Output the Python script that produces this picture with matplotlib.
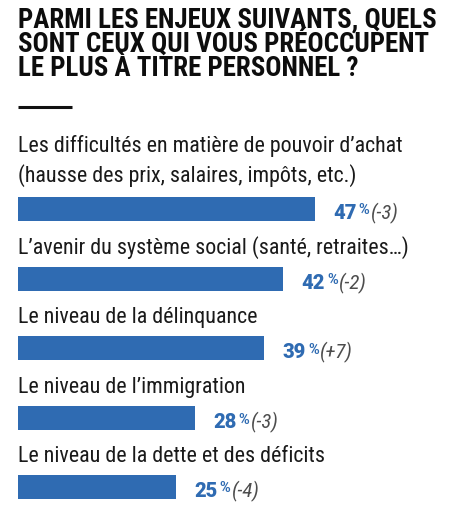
import matplotlib
matplotlib.use("Agg")
import matplotlib.pyplot as plt
from matplotlib import font_manager

# Data
labels = [
    "Les difficultés en matière de pouvoir d’achat\n(hausse des prix, salaires, impôts, etc.)",
    "L’avenir du système social (santé, retraites…)",
    "Le niveau de la délinquance",
    "Le niveau de l’immigration",
    "Le niveau de la dette et des déficits",
]
values = [47, 42, 39, 28, 25]
changes = ["(-3)", "(-2)", "(+7)", "(-3)", "(-4)"]
title = "PARMI LES ENJEUX SUIVANTS, QUELS\nSONT CEUX QUI VOUS PRÉOCCUPENT\nLE PLUS À TITRE PERSONNEL ?"

names = {f.name for f in font_manager.fontManager.ttflist}
cond = next((n for n in ["Roboto Condensed", "Liberation Sans Narrow", "Roboto"] if n in names), "DejaVu Sans")

BLUE = "#2f6bb2"
W, H = 460, 505
k = 6.31   # px per %
x0 = 18

fig = plt.figure(figsize=(W / 100, H / 100), dpi=100)
ax = fig.add_axes([0, 0, 1, 1])
ax.set_xlim(-x0 / k, (W - x0) / k)
ax.set_ylim(H, 0)
ax.axis("off")

bar_y = [209, 279, 348, 418, 487]
ax.barh(bar_y, values, height=24, left=0, color=BLUE)

fig.canvas.draw()
r = fig.canvas.get_renderer()

# title
lines = title.split("\n")
t = ax.text(0, 28, lines[0], fontsize=16, fontweight="black",
            family=cond, color="#0d0d0d", va="baseline")
w = t.get_window_extent(r).width
tsize = 16 * 419 / w
t.set_fontsize(tsize)
for line, y in zip(lines[1:], [52, 75.5]):
    ax.text(0, y, line, fontsize=tsize, fontweight="black",
            family=cond, color="#0d0d0d", va="baseline")
ax.plot([0, 54 / k], [107, 107], color="#111111", lw=2.2, solid_capstyle="butt")

# labels
t = ax.text(0, 152, labels[0].split("\n")[0], fontsize=16, family=cond,
            color="#1a1a1a", va="baseline")
w = t.get_window_extent(r).width
lsize = 16 * 387 / w
t.set_fontsize(lsize)
ax.text(0, 182, labels[0].split("\n")[1], fontsize=lsize, family=cond,
        color="#1a1a1a", va="baseline")
for lab, y in zip(labels[1:], bar_y[1:]):
    ax.text(0, y - 12 - 13.5, lab, fontsize=lsize, family=cond,
            color="#1a1a1a", va="baseline")

# value labels: number, small "%", then change in italics
inv = ax.transData.inverted()
for v, c, y in zip(values, changes, bar_y):
    a = ax.annotate(str(v), (v, y + 10), xytext=(13.5, 0), textcoords="offset points",
                    fontsize=14.5, fontweight="black", family="Roboto", color=BLUE,
                    va="baseline")
    fig.canvas.draw()
    xa = inv.transform((a.get_window_extent(r).x1 + 2, 0))[0]
    b = ax.text(xa, y + 5.5, "%", fontsize=10.5, fontweight="bold", family="Roboto",
                color=BLUE, va="baseline")
    fig.canvas.draw()
    xb = inv.transform((b.get_window_extent(r).x1 + 1, 0))[0]
    ax.text(xb, y + 10, c, fontsize=15, style="italic", family=cond,
            color="#4d4d4d", va="baseline")

fig.savefig("out.png", dpi=100)
